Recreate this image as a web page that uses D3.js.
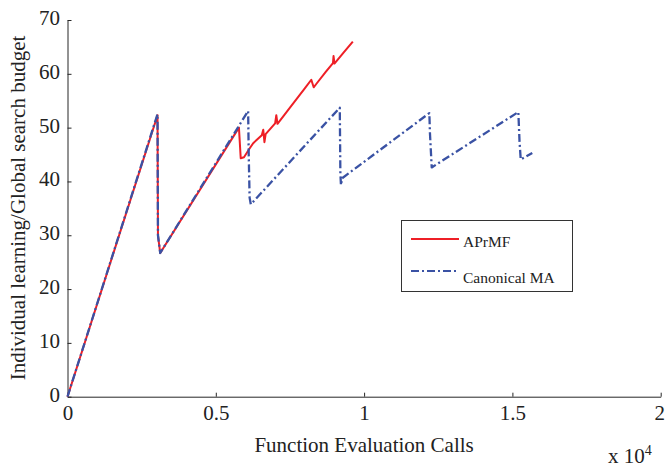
<!DOCTYPE html>
<html>
<head>
<meta charset="utf-8">
<script src="https://cdn.jsdelivr.net/npm/d3@7"></script>
<style>
  body { margin: 0; background: #fff; }
  svg { display: block; }
  text { font-family: "Liberation Serif", "Times New Roman", serif; fill: #222; }
</style>
</head>
<body>
<div id="chart"></div>
<script>
// series (x = function evaluation calls, y = budget)
var aprmfX = [0, 3035, 3050, 3126, 5780, 5840, 5950, 6150, 6260, 6550, 6600, 6640, 6680, 7000, 7040, 7080, 7500, 8000, 8220, 8300, 8400, 8700, 8950, 8970, 9000, 9300, 9620];
var aprmfY = [0, 52.3, 30, 26.7, 50.0, 44.3, 44.5, 46.2, 47.1, 48.6, 49.6, 47.3, 48.8, 50.8, 52.3, 50.7, 53.7, 57.3, 58.9, 57.5, 58.2, 60.3, 62.0, 63.3, 61.9, 63.9, 66.0];

var maX = [0, 3035, 3050, 3126, 6090, 6110, 6140, 6180, 9180, 9200, 9220, 9260, 12200, 12220, 12280, 15200, 15240, 15280, 15450, 15670];
var maY = [0, 52.5, 30, 26.7, 53.1, 45, 37, 35.75, 53.7, 41.5, 39.3, 40.6, 52.7, 49, 42.6, 52.9, 47.5, 44.1, 44.6, 45.3];

var xTicks = [0, 5000, 10000, 15000, 20000];
var yTicks = [0, 10, 20, 30, 40, 50, 60, 70];
var seriesNames = ["APrMF", "Canonical MA"];

var width = 665, height = 466;
var margin = {left: 67.5, right: 4.3, top: 20, bottom: 69.3};

var svg = d3.select('#chart').append('svg')
  .attr('width', width)
  .attr('height', height);

var x = d3.scaleLinear().domain([0, 20000]).range([margin.left, width - margin.right]);
var y = d3.scaleLinear().domain([0, 70]).range([height - margin.bottom, margin.top]);

//axes with inward ticks, MATLAB style
var xAxis = svg.append('g')
  .attr('transform', 'translate(0,' + y(0) + ')')
  .call(d3.axisBottom(x).tickValues(xTicks).tickSizeInner(-4).tickSizeOuter(0)
    .tickFormat(function(d) { return d / 10000; }));
xAxis.selectAll('text').attr('y', 8.5).attr('dy', '0.71em').style('font-size', '21px');
// last label sits on the page edge, nudge it in
xAxis.selectAll('.tick').filter(function(d) { return d === 20000; })
  .select('text').attr('dx', -1.5);

var yAxis = svg.append('g')
  .attr('transform', 'translate(' + x(0) + ',0)')
  .call(d3.axisLeft(y).tickValues(yTicks).tickSizeInner(-4).tickSizeOuter(0));
yAxis.selectAll('text').attr('x', -7.5).attr('dy', '0.21em').style('font-size', '21px');

svg.selectAll('.domain, .tick line').attr('stroke', '#262626');
svg.selectAll('.tick text').attr('fill', '#222').style('font-family', '"Liberation Serif", serif');

// axis labels
svg.append('text')
  .attr('x', (x(0) + x(20000)) / 2)
  .attr('y', 451.7)
  .attr('text-anchor', 'middle')
  .style('font-size', '21px')
  .text('Function Evaluation Calls');

var mult = svg.append('text')
  .attr('x', 608)
  .attr('y', 462.5)
  .style('font-size', '21px');
mult.append('tspan').text('x 10');
mult.append('tspan').attr('dy', -8).style('font-size', '14px').text('4');

svg.append('text')
  .attr('transform', 'translate(25,208) rotate(-90)')
  .attr('text-anchor', 'middle')
  .style('font-size', '21px')
  .text('Individual learning/Global search budget');

// lines
var line = d3.line()
  .x(function(d) { return x(d[0]); })
  .y(function(d) { return y(d[1]); });

var aprmf = d3.zip(aprmfX, aprmfY);
var ma = d3.zip(maX, maY);

svg.append('path')
  .datum(aprmf)
  .attr('d', line)
  .attr('fill', 'none')
  .attr('stroke', '#ee1f26')
  .attr('stroke-width', 2)
  .attr('stroke-linejoin', 'round');

svg.append('path')
  .datum(ma)
  .attr('d', line)
  .attr('fill', 'none')
  .attr('stroke', '#3a52a4')
  .attr('stroke-width', 2.3)
  .attr('stroke-dasharray', '8,3,2,3')
  .attr('stroke-linejoin', 'round');

// legend
var legend = svg.append('g');
legend.append('rect')
  .attr('x', 401.5).attr('y', 220.5)
  .attr('width', 171).attr('height', 71)
  .attr('fill', '#fff')
  .attr('stroke', '#333')
  .attr('stroke-width', 1);

var legendStyle = [
  {color: '#ee1f26', dash: null, ly: 239, ty: 247.3},
  {color: '#3a52a4', dash: '8,3,2,3', ly: 271, ty: 283.3}
];
legendStyle.forEach(function(s, i) {
  legend.append('line')
    .attr('x1', 411).attr('x2', 459)
    .attr('y1', s.ly).attr('y2', s.ly)
    .attr('stroke', s.color)
    .attr('stroke-width', 2.2)
    .attr('stroke-dasharray', s.dash);
  legend.append('text')
    .attr('x', 463).attr('y', s.ty)
    .style('font-size', '15.5px')
    .text(seriesNames[i]);
});
</script>
</body>
</html>
